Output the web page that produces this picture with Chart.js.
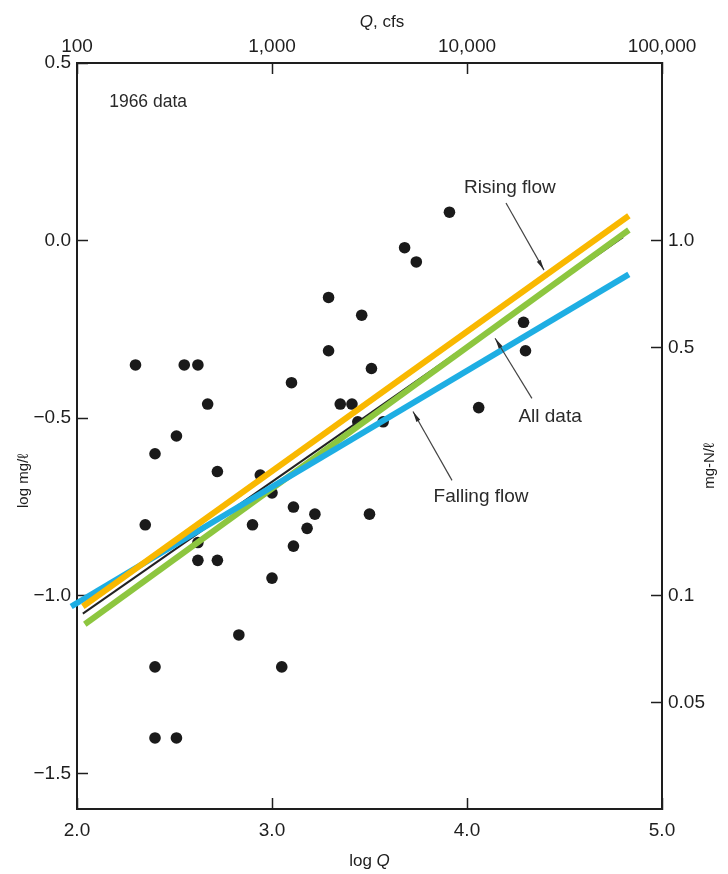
<!DOCTYPE html>
<html>
<head>
<meta charset="utf-8">
<script src="https://cdn.jsdelivr.net/npm/chart.js@4.4.1/dist/chart.umd.min.js"></script>
<style>
  html, body { margin: 0; padding: 0; background: #fff; }
  canvas { display: block; }
</style>
</head>
<body>
<canvas id="chart" width="728" height="874"></canvas>
<script>
// 1966 data, log Q (cfs) against log concentration (mg-N/l)
const logQ = [2.30, 2.55, 2.62, 2.67, 2.51, 2.40, 2.72, 2.35, 2.62, 2.62,
              2.72, 2.90, 2.94, 3.00, 3.10, 3.11, 3.11, 3.18, 3.22, 3.00,
              2.83, 2.40, 3.05, 2.40, 2.51, 3.29, 3.46, 3.29, 3.51, 3.35,
              3.41, 3.44, 3.57, 3.50, 3.68, 3.74, 3.91, 4.06, 4.29, 4.30];
const logC = [-0.35, -0.35, -0.35, -0.46, -0.55, -0.60, -0.65, -0.80, -0.85, -0.90,
              -0.90, -0.80, -0.66, -0.71, -0.40, -0.75, -0.86, -0.81, -0.77, -0.95,
              -1.11, -1.20, -1.20, -1.40, -1.40, -0.16, -0.21, -0.31, -0.36, -0.46,
              -0.46, -0.51, -0.51, -0.77, -0.02, -0.06, 0.08, -0.47, -0.23, -0.31];

// fitted lines (end points)
const risingX = [2.03, 4.83];
const risingY = [-1.03, 0.07];
const allX = [2.04, 4.83];
const allY = [-1.08, 0.03];
const printedX = [2.03, 4.80];
const printedY = [-1.05, 0.01];
const fallingX = [1.97, 4.83];
const fallingY = [-1.03, -0.095];

// axes
const bottomTicks = [2, 3, 4, 5];
const leftTicks = [0.5, 0, -0.5, -1, -1.5];
const topQ = [100, 1000, 10000, 100000];
const rightMgN = [1.0, 0.5, 0.1, 0.05];
const rightLabels = ['1.0', '0.5', '0.1', '0.05'];

// callouts (data units)
const notes = [
  { text: 'Rising flow', at: [4.22, 0.148], from: [4.20, 0.106], to: [4.395, -0.083] },
  { text: 'All data', at: [4.426, -0.497], from: [4.333, -0.444], to: [4.144, -0.275] },
  { text: 'Falling flow', at: [4.072, -0.722], from: [3.923, -0.675], to: [3.723, -0.481] }
];

const FONT = '"Liberation Sans", Arial, Helvetica, sans-serif';
const INK = '#1e1e1e';
const pts = (xs, ys) => xs.map((v, i) => ({ x: v, y: ys[i] }));

function lineSet(xs, ys, color, width, order) {
  return {
    data: pts(xs, ys), showLine: true, pointRadius: 0, borderColor: color,
    borderWidth: width, order: order, clip: 8, borderCapStyle: 'butt'
  };
}

function axis(pos, min, max, ticksFn, label, pad, size) {
  const horiz = pos === 'top' || pos === 'bottom';
  return {
    type: 'linear', position: pos, min: min, max: max, axis: horiz ? 'x' : 'y',
    afterBuildTicks: s => { s.ticks = ticksFn().map(v => ({ value: v })); },
    afterFit: s => { if (horiz) s.height = size; else s.width = size; },
    ticks: { font: { family: FONT, size: 19 }, color: INK, padding: pad,
             maxRotation: 0, autoSkip: false, callback: label },
    grid: { drawOnChartArea: false, tickLength: -11, tickWidth: 1.5, tickColor: INK },
    border: { color: INK, width: 2 }
  };
}

const decor = {
  id: 'decor',
  afterDatasetsDraw(chart) {
    const { ctx, scales: { x, y } } = chart;
    const px = p => [x.getPixelForValue(p[0]), y.getPixelForValue(p[1])];
    ctx.save();
    ctx.fillStyle = '#2a2a2a';
    ctx.strokeStyle = '#444';
    ctx.lineWidth = 1.2;
    ctx.font = '19px ' + FONT;
    ctx.textAlign = 'center';
    ctx.textBaseline = 'middle';
    notes.forEach(n => {
      const [tx, ty] = px(n.at);
      ctx.fillText(n.text, tx, ty);
      const [x1, y1] = px(n.from);
      const [x2, y2] = px(n.to);
      ctx.beginPath(); ctx.moveTo(x1, y1); ctx.lineTo(x2, y2); ctx.stroke();
      const a = Math.atan2(y2 - y1, x2 - x1);
      ctx.beginPath();
      ctx.moveTo(x2, y2);
      ctx.lineTo(x2 - 11 * Math.cos(a - 0.2), y2 - 11 * Math.sin(a - 0.2));
      ctx.lineTo(x2 - 11 * Math.cos(a + 0.2), y2 - 11 * Math.sin(a + 0.2));
      ctx.closePath();
      ctx.fill();
    });
    ctx.textAlign = 'left';
    ctx.font = '17.5px ' + FONT;
    ctx.fillText('1966 data', x.getPixelForValue(2.165), y.getPixelForValue(0.39));
    ctx.restore();
  },
  afterDraw(chart) {
    const { ctx, chartArea: a } = chart;
    ctx.save();
    ctx.fillStyle = INK;
    ctx.textBaseline = 'middle';
    // mixed italic / upright title
    const mixed = (parts, cx, cy) => {
      let w = 0;
      parts.forEach(p => { ctx.font = p[1] + FONT; w += ctx.measureText(p[0]).width; });
      let cur = cx - w / 2;
      ctx.textAlign = 'left';
      parts.forEach(p => { ctx.font = p[1] + FONT; ctx.fillText(p[0], cur, cy); cur += ctx.measureText(p[0]).width; });
    };
    mixed([['Q', 'italic 17px '], [', cfs', '17px ']], 382, 22);
    mixed([['log ', '17px '], ['Q', 'italic 17px ']], (a.left + a.right) / 2, 861);
    ctx.font = '15px ' + FONT;
    ctx.textAlign = 'center';
    [['log mg/ℓ', 24, 481], ['mg-N/ℓ', 710, 466]].forEach(t => {
      ctx.save();
      ctx.translate(t[1], t[2]);
      ctx.rotate(-Math.PI / 2);
      ctx.fillText(t[0], 0, 0);
      ctx.restore();
    });
    ctx.restore();
  }
};

new Chart(document.getElementById('chart'), {
  type: 'scatter',
  data: {
    datasets: [
      lineSet(risingX, risingY, '#F9B800', 6, 1),
      lineSet(fallingX, fallingY, '#1EAEE3', 6, 2),
      lineSet(allX, allY, '#8DC63F', 6, 3),
      lineSet(printedX, printedY, '#222', 2, 4),
      { data: pts(logQ, logC), pointRadius: 5.8, pointBackgroundColor: '#1a1a1a',
        pointBorderWidth: 0, order: 5 }
    ]
  },
  options: {
    responsive: false,
    animation: false,
    layout: { padding: 0 },
    plugins: { legend: { display: false }, tooltip: { enabled: false } },
    scales: {
      x: axis('bottom', 2, 5, () => bottomTicks, v => v.toFixed(1), 21, 65),
      xTop: axis('top', 2, 5, () => topQ.map(q => Math.log10(q)),
                 (v, i) => topQ[i].toLocaleString('en-US'), 16, 63),
      y: axis('left', -1.6, 0.5, () => leftTicks,
              v => (v < 0 ? '\u2212' : '') + Math.abs(v).toFixed(1), 17, 77),
      yRight: axis('right', -1.6, 0.5, () => rightMgN.map(c => Math.log10(c)),
                   (v, i) => rightLabels[i], 17, 66)
    }
  },
  plugins: [decor]
});
</script>
</body>
</html>
